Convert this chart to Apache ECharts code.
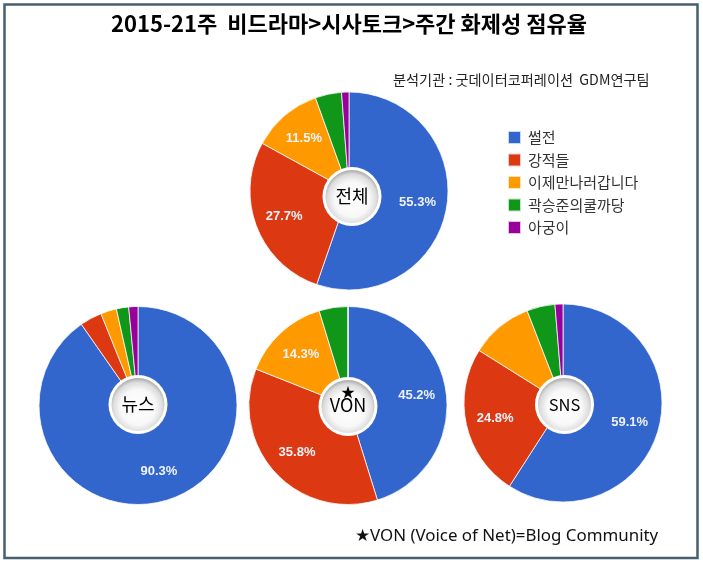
<!DOCTYPE html>
<html>
<head>
<meta charset="utf-8">
<style>
  html, body { margin: 0; padding: 0; background: #fff; }
  #chart { width: 703px; height: 564px; }
</style>
<script src="https://cdn.jsdelivr.net/npm/echarts@6/dist/echarts.min.js"></script>
</head>
<body>
<div id="chart"></div>
<script>
const programs = ['썰전', '강적들', '이제만나러갑니다', '곽승준의쿨까당', '아궁이'];
const colors = ['#3366cc', '#dc3912', '#ff9900', '#109618', '#990099'];

const totalShare = [55.3, 27.7, 11.5, 4.3, 1.2];
const newsShare = [90.3, 3.6, 2.6, 2.0, 1.5];
const vonShare = [45.2, 35.8, 14.3, 4.7, 0];
const snsShare = [59.1, 24.8, 10.2, 4.6, 1.3];

const cjk = '"Noto Sans CJK KR", sans-serif';
const latin = '"Liberation Sans", Arial, sans-serif';

const chart = echarts.init(document.getElementById('chart'), null, { renderer: 'canvas' });

function pieData(values) {
  return programs.map((name, i) => ({ name, value: values[i] }));
}

// two series per pie: the visible slices, and a clear ring that only carries
// the percent labels so they sit about 2/3 of the way out like the original
function pieSeries(values, center) {
  return [
    {
      type: 'pie',
      center,
      radius: [0, 99],
      startAngle: 90,
      silent: true,
      label: { show: false },
      labelLine: { show: false },
      itemStyle: { borderColor: 'rgba(255,255,255,0.75)', borderWidth: 1 },
      data: pieData(values)
    },
    {
      type: 'pie',
      center,
      radius: [34, 99],
      startAngle: 90,
      silent: true,
      legendHoverLink: false,
      itemStyle: { color: 'transparent', borderWidth: 0 },
      label: {
        position: 'inside',
        color: '#eef2fa',
        fontFamily: latin,
        fontSize: 13,
        fontWeight: 'bold',
        formatter: p => (p.value >= 11 ? p.value.toFixed(1) + '%' : '')
      },
      labelLine: { show: false },
      data: pieData(values)
    }
  ];
}

function hub(x, y, lines) {
  const parts = [
    { type: 'circle', z: 20, shape: { cx: x, cy: y, r: 29.5 }, style: { fill: '#fff' } },
    {
      type: 'circle',
      z: 21,
      shape: { cx: x, cy: y, r: 26.5 },
      style: {
        fill: new echarts.graphic.RadialGradient(0.5, 0.55, 0.55, [
          { offset: 0, color: '#ffffff' },
          { offset: 0.6, color: '#f8f8f8' },
          { offset: 0.85, color: '#dcdcdc' },
          { offset: 1, color: '#a8a8a8' }
        ])
      }
    }
  ];
  lines.forEach(line => {
    parts.push({
      type: 'text',
      z: 22,
      x: x + (line.dx || 0),
      y: y + line.dy,
      style: {
        text: line.text,
        fill: '#000',
        font: `400 ${line.size}px ${cjk}`,
        align: 'center',
        verticalAlign: 'middle'
      }
    });
  });
  return parts;
}

const option = {
  backgroundColor: '#fff',
  animation: false,
  title: {
    text: '2015-21주  비드라마>시사토크>주간 화제성 점유율',
    left: 344,
    top: 8,
    textAlign: 'center',
    textStyle: { fontFamily: cjk, fontSize: 22, fontWeight: 'bold', color: '#000' }
  },
  legend: {
    orient: 'vertical',
    left: 502,
    top: 125,
    itemWidth: 13,
    itemHeight: 13,
    itemGap: 7.5,
    icon: 'rect',
    data: programs,
    selectedMode: false,
    textStyle: { fontFamily: cjk, fontSize: 15, color: '#333', padding: [0, 0, 0, 2] }
  },
  color: colors,
  series: [
    ...pieSeries(totalShare, [349, 191]),
    ...pieSeries(newsShare, [138, 405.5]),
    ...pieSeries(vonShare, [348, 405.5]),
    ...pieSeries(snsShare, [563, 403])
  ],
  graphic: [
    {
      type: 'rect',
      z: 1,
      shape: { x: 4.5, y: 4.5, width: 693, height: 553.5 },
      style: { fill: 'transparent', stroke: '#46606e', lineWidth: 2.5 }
    },
    {
      type: 'text',
      x: 393,
      y: 80,
      style: {
        text: '분석기관 : 굿데이터코퍼레이션  GDM연구팀',
        fill: '#222',
        font: `14.2px ${cjk}`,
        verticalAlign: 'middle'
      }
    },
    {
      type: 'text',
      x: 355,
      y: 536,
      style: {
        text: '★VON (Voice of Net)=Blog Community',
        fill: '#111',
        font: '16.9px "Noto Sans", sans-serif',
        verticalAlign: 'middle'
      }
    },
    ...hub(352, 196.5, [{ text: '전체', dy: 0, size: 18 }]),
    ...hub(138, 404.5, [{ text: '뉴스', dy: 0, size: 18 }]),
    ...hub(348, 406.5, [{ text: '★', dy: -15, size: 14 }, { text: 'VON', dy: -1, size: 18 }]),
    ...hub(564.5, 404.5, [{ text: 'SNS', dy: 0, size: 16.5 }])
  ]
};

chart.setOption(option);
</script>
</body>
</html>
